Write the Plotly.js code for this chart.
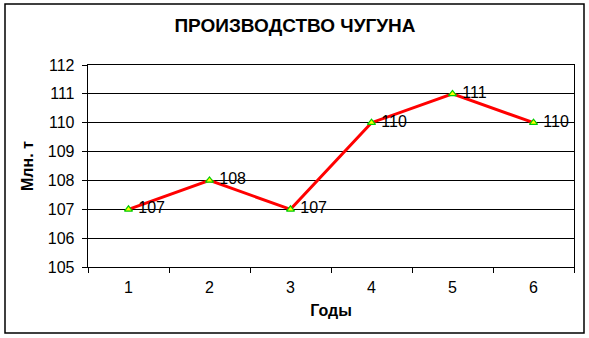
<!DOCTYPE html>
<html>
<head>
<meta charset="utf-8">
<script src="https://cdn.plot.ly/plotly-3.0.1.min.js"></script>
<style>
html,body{margin:0;padding:0;background:#fff;}
#chart{width:589px;height:338px;}
</style>
</head>
<body>
<div id="chart"></div>
<script>
const years = ["1", "2", "3", "4", "5", "6"];
const values = [107, 108, 107, 110, 111, 110];
const labels = ["107", "108", "107", "110", "111", "110"];
const yTicks = [105, 106, 107, 108, 109, 110, 111, 112];

const font = "Liberation Sans, Arial, sans-serif";

const trace = {
  x: years,
  y: values,
  type: "scatter",
  mode: "lines+markers+text",
  text: labels,
  texttemplate: " %{text}",
  textposition: "middle right",
  textfont: {family: font, size: 16, color: "#000"},
  line: {color: "#ff0000", width: 3},
  marker: {symbol: "triangle-up", size: 7, color: "#ffff00", line: {color: "#00cc00", width: 1.2}},
  cliponaxis: false,
  hoverinfo: "skip"
};

const layout = {
  width: 589,
  height: 338,
  margin: {l: 88, r: 15, t: 65, b: 71},
  paper_bgcolor: "#ffffff",
  plot_bgcolor: "#ffffff",
  showlegend: false,
  title: {
    text: "<b>ПРОИЗВОДСТВО ЧУГУНА</b>",
    font: {family: font, size: 19, color: "#000"},
    x: 295 / 589, xref: "container", xanchor: "center",
    y: 1 - 25 / 338, yref: "container", yanchor: "middle"
  },
  xaxis: {
    type: "category",
    range: [-0.5, 5.5],
    showgrid: false,
    showline: true, linecolor: "#000", linewidth: 1.3, mirror: true,
    ticks: "outside", tickson: "boundaries", ticklen: 5, tickcolor: "#000", tickwidth: 1,
    ticklabelstandoff: 5,
    tickfont: {family: font, size: 16, color: "#000"},
    title: {text: "<b>Годы</b>", font: {family: font, size: 16, color: "#000"}, standoff: 10},
    zeroline: false, fixedrange: true
  },
  yaxis: {
    range: [105, 112],
    tickvals: yTicks,
    ticktext: yTicks.map(String),
    showgrid: true, gridcolor: "#000", gridwidth: 1,
    showline: true, linecolor: "#000", linewidth: 1.3, mirror: true,
    ticks: "outside", ticklen: 5, tickcolor: "#000", tickwidth: 1,
    ticklabelstandoff: 4,
    tickfont: {family: font, size: 16, color: "#000"},
    title: {text: "<b>Млн. т</b>", font: {family: font, size: 16, color: "#000"}, standoff: 10},
    zeroline: false, fixedrange: true
  },
  shapes: [{
    type: "rect", xref: "paper", yref: "paper",
    x0: (5 - 88) / 486, x1: (584 - 88) / 486,
    y0: (267 - 333) / 202, y1: (267 - 4) / 202,
    line: {color: "#000", width: 1.5}, fillcolor: "rgba(0,0,0,0)", layer: "below"
  }]
};

Plotly.newPlot("chart", [trace], layout, {displayModeBar: false, staticPlot: true});
</script>
</body>
</html>
